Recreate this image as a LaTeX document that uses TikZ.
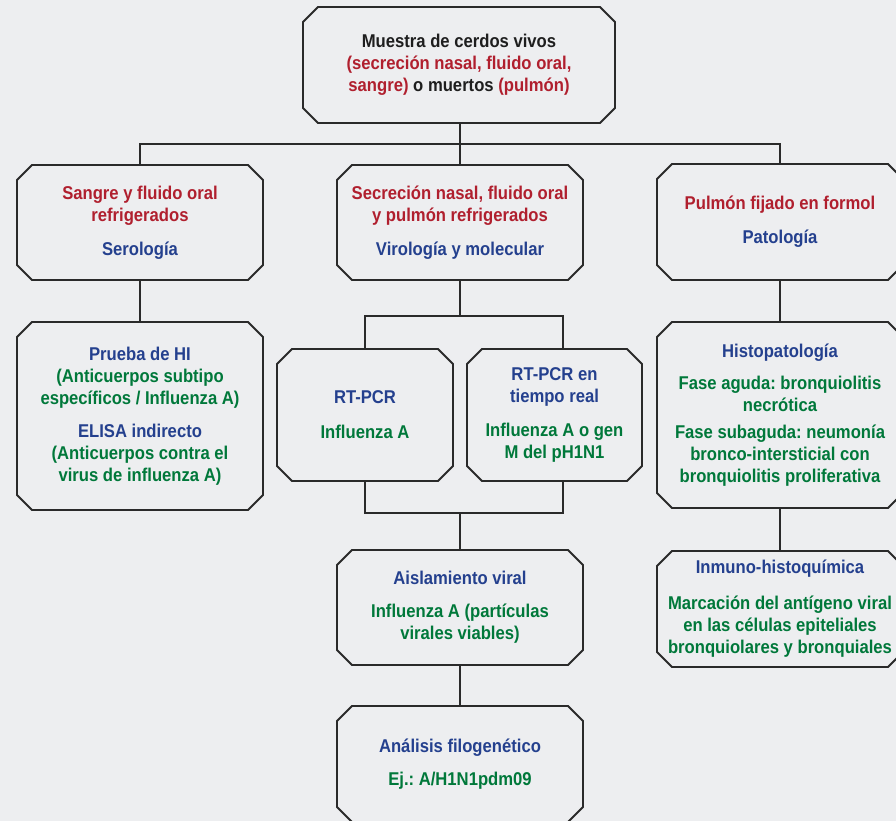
\documentclass[tikz,border=0pt]{standalone}
\usepackage{fontspec}
\setmainfont{Liberation Sans}[FakeStretch=0.9]
\usepackage{xcolor}
\definecolor{bgc}{HTML}{EDEEF0}
\definecolor{linec}{HTML}{2A2A2A}
\definecolor{tred}{HTML}{B01F2E}
\definecolor{tblue}{HTML}{24408E}
\definecolor{tgreen}{HTML}{00783A}
\definecolor{tblack}{HTML}{1E1E1E}
\frenchspacing
\begin{document}
\begin{tikzpicture}[x=1pt,y=-1pt,
  box/.style={rectangle, inner sep=0pt, outer sep=0pt, align=center,
    font=\fontsize{18.5}{22}\selectfont\bfseries\frenchspacing},
  boxline/.style={draw=linec, line width=1.8pt, line join=miter},
  conn/.style={draw=linec, line width=1.8pt}]
\fill[bgc] (0,0) rectangle (896,821);
\useasboundingbox (0,0) rectangle (896,821);
\clip (0,0) rectangle (896,821);

\node[box, minimum width=312pt, minimum height=116pt] (top) at (459,65)
  {\textcolor{tblack}{Muestra de cerdos vivos}\\
   \textcolor{tred}{(secreción nasal, fluido oral,}\\
   \textcolor{tred}{sangre)} \textcolor{tblack}{o muertos} \textcolor{tred}{(pulmón)}};

\node[box, minimum width=246pt, minimum height=115pt] (sero) at (140,222.5)
  {\textcolor{tred}{Sangre y fluido oral}\\
   \textcolor{tred}{refrigerados}\\[12pt]
   \textcolor{tblue}{Serología}};

\node[box, minimum width=246pt, minimum height=115pt] (viro) at (460,222.5)
  {\textcolor{tred}{Secreción nasal, fluido oral}\\
   \textcolor{tred}{y pulmón refrigerados}\\[12pt]
   \textcolor{tblue}{Virología y molecular}};

\node[box, minimum width=246pt, minimum height=116pt] (pato) at (780,222)
  {\textcolor{tred}{Pulmón fijado en formol}\\[12pt]
   \textcolor{tblue}{Patología}};

\node[box, minimum width=246pt, minimum height=188pt] (hi) at (140,416)
  {\textcolor{tblue}{Prueba de HI}\\
   \textcolor{tgreen}{(Anticuerpos subtipo}\\
   \textcolor{tgreen}{específicos / Influenza A)}\\[11pt]
   \textcolor{tblue}{ELISA indirecto}\\
   \textcolor{tgreen}{(Anticuerpos contra el}\\
   \textcolor{tgreen}{virus de influenza A)}};

\node[box, minimum width=176pt, minimum height=132pt] (rtpcr) at (365,415)
  {\textcolor{tblue}{RT-PCR}\\[13pt]
   \textcolor{tgreen}{Influenza A}};

\node[box, minimum width=175pt, minimum height=132pt] (rtreal) at (554.5,415)
  {\textcolor{tblue}{RT-PCR en}\\
   \textcolor{tblue}{tiempo real}\\[12pt]
   \textcolor{tgreen}{Influenza A o gen}\\
   \textcolor{tgreen}{M del pH1N1}};

\node[box, minimum width=246pt, minimum height=186pt] (histo) at (780,415)
  {\textcolor{tblue}{Histopatología}\\[10pt]
   \textcolor{tgreen}{Fase aguda: bronquiolitis}\\
   \textcolor{tgreen}{necrótica}\\[5pt]
   \textcolor{tgreen}{Fase subaguda: neumonía}\\
   \textcolor{tgreen}{bronco-intersticial con}\\
   \textcolor{tgreen}{bronquiolitis proliferativa}};

\node[box, minimum width=246pt, minimum height=115pt] (aisl) at (460,607.5)
  {\textcolor{tblue}{Aislamiento viral}\\[11pt]
   \textcolor{tgreen}{Influenza A (partículas}\\
   \textcolor{tgreen}{virales viables)}};

\node[box, minimum width=246pt, minimum height=116pt] (filo) at (460,764)
  {\textcolor{tblue}{Análisis filogenético}\\[11pt]
   \textcolor{tgreen}{Ej.: A/H1N1pdm09}};

\node[box, minimum width=246pt, minimum height=116pt] (inmuno) at (780,609)
  {\textcolor{tblue}{Inmuno-histoquímica}\\[14pt]
   \textcolor{tgreen}{Marcación del antígeno viral}\\
   \textcolor{tgreen}{en las células epiteliales}\\
   \textcolor{tgreen}{bronquiolares y bronquiales}};

\foreach \n in {top,sero,viro,pato,hi,rtpcr,rtreal,histo,aisl,filo,inmuno}{
  \draw[boxline] ([xshift=15pt]\n.north west) -- ([xshift=-15pt]\n.north east)
    -- ([yshift=-15pt]\n.north east) -- ([yshift=15pt]\n.south east)
    -- ([xshift=-15pt]\n.south east) -- ([xshift=15pt]\n.south west)
    -- ([yshift=15pt]\n.south west) -- ([yshift=-15pt]\n.north west) -- cycle;
}

% connectors
\coordinate (bus1) at (0,144);
\coordinate (bus2) at (0,316);
\coordinate (bus3) at (0,513);
\coordinate (rtx) at (563,0);

\draw[conn] ([xshift=1pt]top.south) -- ([xshift=1pt]top.south |- bus1);
\draw[conn] (sero.north) -- (sero.north |- bus1) -- (pato.north |- bus1) -- (pato.north);
\draw[conn] (viro.north) -- (viro.north |- bus1);

\draw[conn] (viro.south) -- (viro.south |- bus2);
\draw[conn] (rtpcr.north) -- (rtpcr.north |- bus2) -- (rtx |- bus2) -- (rtx |- rtreal.north);
\draw[conn] (rtpcr.south) -- (rtpcr.south |- bus3) -- (rtx |- bus3) -- (rtx |- rtreal.south);
\draw[conn] (aisl.north) -- (aisl.north |- bus3);
\draw[conn] (aisl.south) -- (filo.north);

\draw[conn] (sero.south) -- (hi.north);
\draw[conn] (pato.south) -- (histo.north);
\draw[conn] (histo.south) -- (inmuno.north);
\end{tikzpicture}
\end{document}
